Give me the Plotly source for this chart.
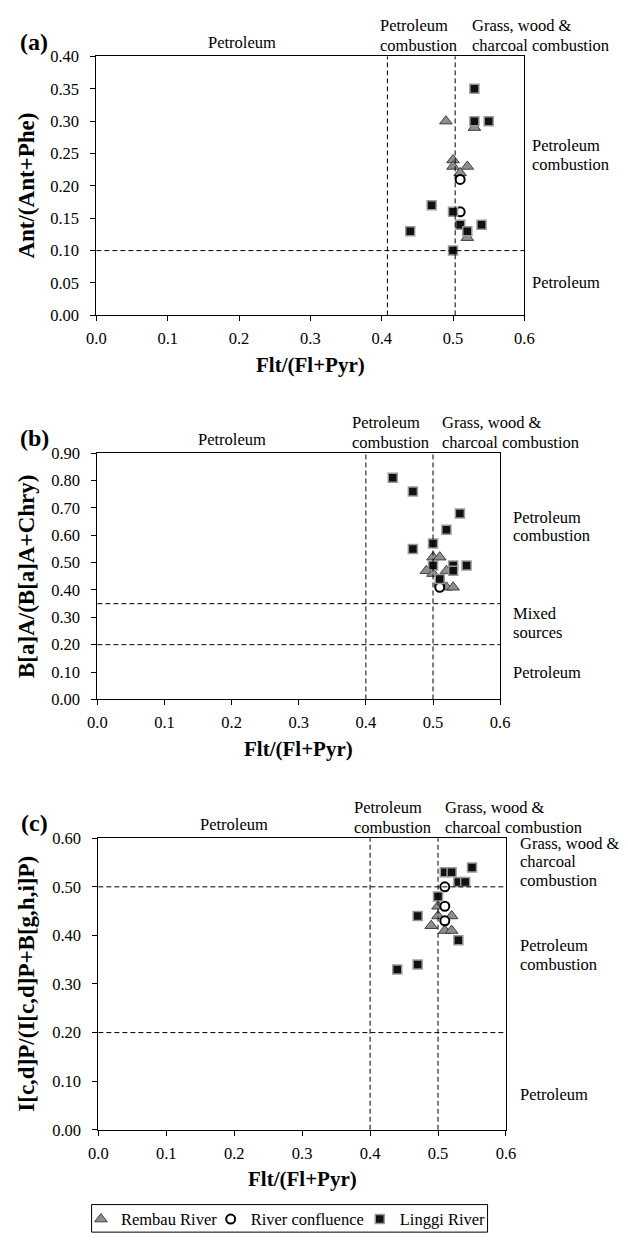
import plotly.graph_objects as go

W, H = 628, 1243
OFF = 8  # page body margin of the browser

# ---------------- data ----------------
# Panel (a): Ant/(Ant+Phe) vs Flt/(Fl+Pyr)
a_rembau_x = [0.49, 0.53, 0.50, 0.50, 0.52, 0.51, 0.52]
a_rembau_y = [0.30, 0.29, 0.24, 0.23, 0.23, 0.22, 0.12]
a_conf_x = [0.51, 0.51]
a_conf_y = [0.21, 0.16]
a_linggi_x = [0.53, 0.53, 0.55, 0.47, 0.50, 0.51, 0.54, 0.44, 0.52, 0.50]
a_linggi_y = [0.35, 0.30, 0.30, 0.17, 0.16, 0.14, 0.14, 0.13, 0.13, 0.10]

# Panel (b): B[a]A/(B[a]A+Chry) vs Flt/(Fl+Pyr)
b_rembau_x = [0.50, 0.51, 0.49, 0.50, 0.52, 0.52, 0.53]
b_rembau_y = [0.52, 0.52, 0.47, 0.46, 0.47, 0.41, 0.41]
b_conf_x = [0.51, 0.51]
b_conf_y = [0.42, 0.41]
b_linggi_x = [0.44, 0.47, 0.54, 0.52, 0.50, 0.47, 0.50, 0.53, 0.55, 0.53, 0.51]
b_linggi_y = [0.81, 0.76, 0.68, 0.62, 0.57, 0.55, 0.49, 0.49, 0.49, 0.47, 0.44]

# Panel (c): I[c,d]P/(I[c,d]P+B[g,h,i]P) vs Flt/(Fl+Pyr)
c_rembau_x = [0.50, 0.50, 0.52, 0.49, 0.51, 0.52]
c_rembau_y = [0.46, 0.44, 0.44, 0.42, 0.41, 0.41]
c_conf_x = [0.51, 0.51, 0.51]
c_conf_y = [0.50, 0.46, 0.43]
c_linggi_x = [0.51, 0.52, 0.55, 0.53, 0.54, 0.50, 0.47, 0.53, 0.47, 0.44]
c_linggi_y = [0.53, 0.53, 0.54, 0.51, 0.51, 0.48, 0.44, 0.39, 0.34, 0.33]

x_title = "Flt/(Fl+Pyr)"
y_titles = ["Ant/(Ant+Phe)", "B[a]A/(B[a]A+Chry)", "I[c,d]P/(I[c,d]P+B[g,h,i]P)"]
panel_tags = ["(a)", "(b)", "(c)"]
series_names = ["Rembau River", "River confluence", "Linggi River"]

a_vlines = [0.408, 0.503]
a_hlines = [0.10]
b_vlines = [0.40, 0.50]
b_hlines = [0.35, 0.20]
c_vlines = [0.40, 0.50]
c_hlines = [0.50, 0.20]

y_ranges = [[0, 0.40], [0, 0.90], [0, 0.60]]
y_dticks = [0.05, 0.10, 0.10]

# ---------------- layout geometry (page pixels) ----------------
FONT = "Liberation Serif, Times New Roman, serif"
FS = 16.5
boxes = [  # left, right, top, bottom
    (89, 531, 48, 311),
    (90, 506, 451, 701),
    (91, 512, 842, 1138),
]
top_left_x = [
    (202, 380, 475),
    (192, 351, 444),
    (194, 353, 447),
]

def px(x):
    return (x - OFF) / W

def py(y):
    return 1 - (y - OFF) / H

fig = go.Figure()

styles = [
    dict(symbol="triangle-up", size=11, color="#8e8e8e", line=dict(color="#404040", width=1)),
    dict(symbol="circle", size=9, color="white", line=dict(color="black", width=2)),
    dict(symbol="square", size=9, color="#111111", line=dict(color="#9a9a9a", width=1.5)),
]
legend_ids = ["legend", "legend2", "legend3"]

panels = [
    ((a_rembau_x, a_rembau_y), (a_conf_x, a_conf_y), (a_linggi_x, a_linggi_y)),
    ((b_rembau_x, b_rembau_y), (b_conf_x, b_conf_y), (b_linggi_x, b_linggi_y)),
    ((c_rembau_x, c_rembau_y), (c_conf_x, c_conf_y), (c_linggi_x, c_linggi_y)),
]

for i, series in enumerate(panels):
    sfx = "" if i == 0 else str(i + 1)
    for j, (xs, ys) in enumerate(series):
        fig.add_trace(go.Scatter(
            x=xs, y=ys, mode="markers", name=series_names[j],
            marker=styles[j], showlegend=(i == 0), legend=legend_ids[j],
            xaxis="x" + sfx, yaxis="y" + sfx,
        ))

axis_common = dict(
    showline=True, linecolor="black", linewidth=1, mirror=True,
    ticks="outside", ticklen=5, tickcolor="black", tickwidth=1,
    showgrid=False, zeroline=False,
    tickfont=dict(family=FONT, size=FS, color="black"),
)

for i, (l, r, t, b) in enumerate(boxes):
    sfx = "" if i == 0 else str(i + 1)
    fig.update_layout(**{
        "xaxis" + sfx: dict(
            axis_common, domain=[px(l), px(r)], range=[0, 0.6], dtick=0.1,
            tickformat=".1f", anchor="y" + sfx, ticklabelstandoff=3,
        ),
        "yaxis" + sfx: dict(
            axis_common, domain=[py(b), py(t)], range=y_ranges[i], dtick=y_dticks[i],
            tickformat=".2f", anchor="x" + sfx, ticklabelstandoff=8,
        ),
    })

DASH = "5px,3px"
shapes = []
for i, (vl, hl) in enumerate([(a_vlines, a_hlines), (b_vlines, b_hlines), (c_vlines, c_hlines)]):
    sfx = "" if i == 0 else str(i + 1)
    for v in vl:
        shapes.append(dict(type="line", xref="x" + sfx, yref="y" + sfx + " domain",
                           x0=v, x1=v, y0=0, y1=1, line=dict(color="black", width=1, dash=DASH)))
    for h in hl:
        shapes.append(dict(type="line", xref="x" + sfx + " domain", yref="y" + sfx,
                           x0=0, x1=1, y0=h, y1=h, line=dict(color="black", width=1, dash=DASH)))

# frame around the legend entries
shapes.append(dict(type="rect", xref="paper", yref="paper",
                   x0=px(84), x1=px(493), y0=py(1242), y1=py(1214),
                   line=dict(color="black", width=1), fillcolor="rgba(0,0,0,0)"))
fig.update_layout(shapes=shapes)

ann = []

def text(x, y, s, size=FS, bold=False, xanchor="center", angle=0):
    ann.append(dict(
        x=px(x), y=py(y), xref="paper", yref="paper", text=("<b>%s</b>" % s) if bold else s,
        showarrow=False, xanchor=xanchor, yanchor="middle", textangle=angle,
        font=dict(family=FONT, size=size, color="black"),
    ))

for i, (l, r, t, b) in enumerate(boxes):
    text(25, t - 15, panel_tags[i], size=24, bold=True)
    text((l + r) / 2, b + 50, x_title, size=21, bold=True)
    text(17, (t + b) / 2, y_titles[i], size=23, bold=True, angle=-90)
    x1, x2, x3 = top_left_x[i]
    text(x1, t - 14, "Petroleum", xanchor="left")
    text(x2, t - 31, "Petroleum", xanchor="left")
    text(x2, t - 11, "combustion", xanchor="left")
    text(x3, t - 31, "Grass, wood &", xanchor="left")
    text(x3, t - 11, "charcoal combustion", xanchor="left")

# right-side zone labels
text(537, 139, "Petroleum", xanchor="left")
text(537, 158, "combustion", xanchor="left")
text(537, 278, "Petroleum", xanchor="left")

text(517, 516, "Petroleum", xanchor="left")
text(517, 535, "combustion", xanchor="left")
text(517, 614, "Mixed", xanchor="left")
text(517, 633, "sources", xanchor="left")
text(517, 674, "Petroleum", xanchor="left")

text(524, 847, "Grass, wood &", xanchor="left")
text(524, 866, "charcoal", xanchor="left")
text(524, 885, "combustion", xanchor="left")
text(524, 951, "Petroleum", xanchor="left")
text(524, 970, "combustion", xanchor="left")
text(524, 1102, "Petroleum", xanchor="left")

fig.update_layout(annotations=ann)

leg_common = dict(
    orientation="h", xanchor="left", y=py(1229), yanchor="middle",
    borderwidth=0, bgcolor="rgba(0,0,0,0)", itemwidth=30,
    font=dict(family=FONT, size=FS, color="black"),
)
legend_text_left = [114, 248, 402]

fig.update_layout(
    width=W, height=H,
    margin=dict(l=0, r=0, t=0, b=0),
    paper_bgcolor="white", plot_bgcolor="white",
    font=dict(family=FONT, size=FS, color="black"),
    legend=dict(leg_common, x=px(legend_text_left[0] - 41)),
    legend2=dict(leg_common, x=px(legend_text_left[1] - 41)),
    legend3=dict(leg_common, x=px(legend_text_left[2] - 41)),
)

fig.write_html("out.html")
